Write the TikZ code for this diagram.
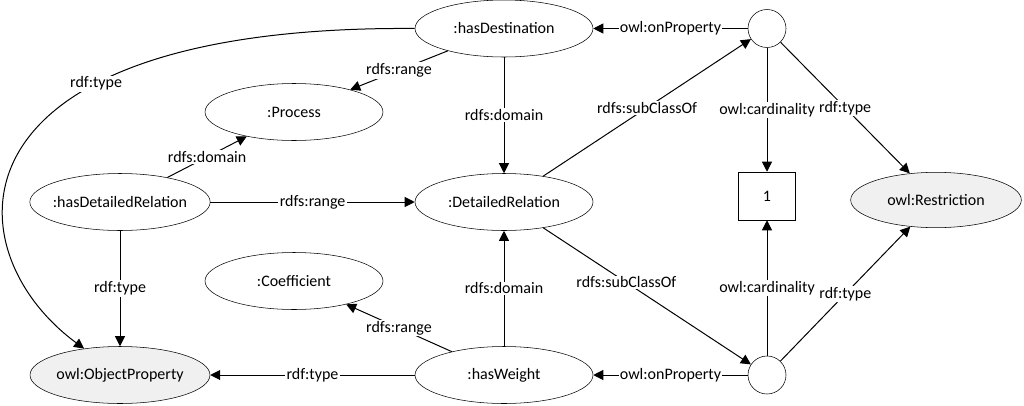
\documentclass[tikz,border=0pt]{standalone}
\usepackage{fontspec}
\setmainfont{Carlito}
\usetikzlibrary{arrows.meta,shapes.geometric}
\newdimen\unitsize
\setlength{\unitsize}{0.75pt}
\definecolor{owlgray}{RGB}{240,240,240}

\begin{document}
\begin{tikzpicture}[x=\unitsize,y=\unitsize,font=\fontsize{12}{14}\selectfont]
\tikzset{res/.style={draw, ellipse, inner sep=0pt, minimum width=133.5pt, minimum height=42.75pt}}%
\tikzset{owl/.style={res, fill=owlgray}}%
\tikzset{blank/.style={draw, circle, inner sep=0pt, minimum size=28.5pt}}%
\tikzset{lit/.style={draw, rectangle, minimum width=42.75pt, minimum height=36pt}}%
\tikzset{arr/.style={line width=0.75pt, -{Triangle[length=7.5pt,width=7.5pt]}}}%
\tikzset{lab/.style={fill=white, inner sep=1pt}}%
\useasboundingbox (0,0) rectangle (1024,405);
\node[res] (hd) at (504,376.5) {:hasDestination};
\node[res] (pr) at (294,293) {:Process};
\node[res, inner xsep=-2.5pt] (hdr) at (120,203) {:hasDetailedRelation};
\node[res] (dr) at (504,203) {:DetailedRelation};
\node[res] (coef) at (294,124) {:Coefficient};
\node[owl] (op) at (120,30) {owl:ObjectProperty};
\node[res] (hw) at (504,30) {:hasWeight};
\node[blank] (rt) at (767,376.5) {};
\node[blank] (rb) at (767,30) {};
\node[lit] (one) at (767,209) {1};
\node[owl, minimum width=128pt, minimum height=41.5pt] (rs) at (936,205) {owl:Restriction};
\draw[arr] (hd) -- node[lab] {rdfs:range} (pr);
\draw[arr] (hd) -- node[lab] {rdfs:domain} (dr);
\draw[arr] (rt) -- node[lab] {owl:onProperty} (hd);
\draw[arr] (dr) -- node[lab] {rdfs:subClassOf} (rt);
\draw[arr] (rt) -- node[lab] {owl:cardinality} (one);
\draw[arr] (rt) -- node[lab] {rdf:type} (rs);
\draw[arr] (hdr) -- node[lab] {rdfs:domain} (pr);
\draw[arr] (hdr) -- node[lab] {rdfs:range} (dr);
\draw[arr] (hdr) -- node[lab] {rdf:type} (op);
\draw[arr] (hw) -- node[lab] {rdfs:domain} (dr);
\draw[arr] (hw) -- node[lab] {rdfs:range} (coef);
\draw[arr] (hw) -- node[lab] {rdf:type} (op);
\draw[arr] (rb) -- node[lab] {owl:onProperty} (hw);
\draw[arr] (dr) -- node[lab, pos=0.4] {rdfs:subClassOf} (rb);
\draw[arr] (rb) -- node[lab] {owl:cardinality} (one);
\draw[arr] (rb) -- node[lab] {rdf:type} (rs);
\draw[arr] (hd.west) .. controls (-60,380) and (-50,155) .. node[lab, pos=0.32] {rdf:type} (op);
\end{tikzpicture}
\end{document}
